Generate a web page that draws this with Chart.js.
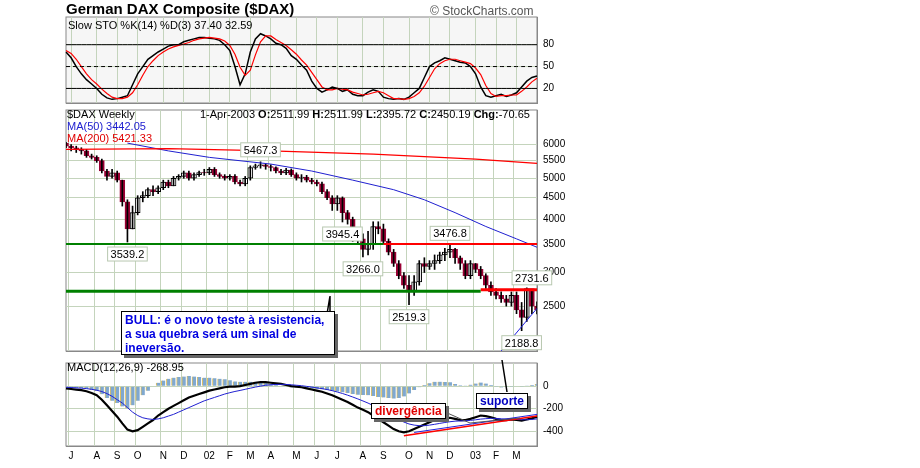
<!DOCTYPE html>
<html><head><meta charset="utf-8">
<script src="https://cdn.jsdelivr.net/npm/chart.js@4.4.0/dist/chart.umd.min.js"></script>
<style>
body{margin:0;background:#fff;font-family:"Liberation Sans",Arial,sans-serif}
#wrap{position:relative;width:920px;height:468px}
.pan{position:absolute;left:62px;width:518px}
.t{position:absolute;font-size:11px;white-space:nowrap}
.box{position:absolute;background:#fff;border:1px solid #000;box-shadow:3px 3px 0 #666;font-weight:bold;font-size:12px}
</style></head><body>
<div id="wrap">
<div class="pan" style="top:5px;height:110px"><canvas id="sto"></canvas></div>
<div class="pan" style="top:98px;height:265px"><canvas id="price"></canvas></div>
<div class="pan" style="top:351px;height:113px"><canvas id="macd"></canvas></div>
<div class="t" style="left:66px;top:0px;font-size:15px;font-weight:bold">German DAX Composite ($DAX)</div>
<div class="t" style="left:430px;top:4px;font-size:12px;color:#555">© StockCharts.com</div>
<div class="t" style="left:68px;top:19px">Slow STO %K(14) %D(3)  37.40  32.59</div>
<div class="t" style="left:67px;top:108px">$DAX Weekly</div>
<div class="t" style="left:200px;top:108px">1-Apr-2003 <b>O:</b>2511.99 <b>H:</b>2511.99 <b>L:</b>2395.72 <b>C:</b>2450.19 <b>Chg:</b>-70.65</div>
<div class="t" style="left:67px;top:120px;color:#2020d0">MA(50) 3442.05</div>
<div class="t" style="left:67px;top:132px;color:#e00000">MA(200) 5421.33</div>
<div class="t" style="left:67px;top:361px">MACD(12,26,9)  -268.95</div>
<svg width="920" height="468" style="position:absolute;left:0;top:0;pointer-events:none">
<polyline points="322,344 330,296 330,350" fill="none" stroke="#000" stroke-width="1.5"/>
<polyline points="445,412 470,423 520,418" fill="none" stroke="#555" stroke-width="1"/>
<polyline points="507,392 502,360" fill="none" stroke="#000" stroke-width="1.5"/>
</svg>
<div class="box" style="left:121px;top:311px;width:206px;height:40px;color:#0000e0;padding:1px 3px;line-height:14px">BULL: é o novo teste à resistencia, a sua quebra será um sinal de ineversão.</div>
<div class="box" style="left:371px;top:403px;color:#e00000;padding:0 3px">divergência</div>
<div class="box" style="left:476px;top:393px;color:#0000c0;padding:0 3px">suporte</div>
</div>
<script>
const weeks = [];
for (let d = new Date(2001, 5, 25), i = 0; i < 93; i++, d.setDate(d.getDate() + 7)) weeks.push(new Date(d));

const close = [5950,5900,5850,5800,5650,5600,5500,5200,5050,5150,4950,4400,3800,4150,4500,4550,4700,4650,4750,4900,4800,5000,5050,5150,5000,5100,5160,5150,5250,5100,5050,5000,5050,4900,4850,5000,5300,5350,5380,5330,5300,5200,5150,5230,5100,5000,5030,4950,4900,4850,4650,4500,4350,4500,4150,4000,3650,3600,3400,3500,3850,3800,3550,3350,3150,2950,2800,2700,2850,3150,3100,3150,3200,3300,3350,3400,3250,3150,2950,3150,3050,2950,2800,2700,2650,2600,2550,2650,2450,2350,2750,2500,2450];
const high = [6080,6000,5950,5900,5850,5700,5650,5550,5250,5250,5200,4950,4450,4300,4550,4650,4750,4800,4800,4950,4950,5050,5100,5200,5200,5150,5200,5250,5300,5300,5150,5100,5100,5100,4950,5050,5350,5400,5467,5400,5380,5320,5250,5280,5260,5150,5100,5080,5000,4950,4900,4700,4550,4550,4520,4200,4050,3800,3700,3750,3950,3950,3900,3600,3400,3200,3000,2950,2950,3200,3250,3200,3300,3350,3420,3476,3420,3280,3200,3200,3150,3100,2980,2850,2750,2700,2650,2700,2700,2550,2760,2731,2560];
const low = [5900,5800,5750,5700,5600,5550,5450,5150,4950,5000,4900,4300,3539,3800,4100,4400,4500,4550,4600,4700,4750,4800,4950,5000,4950,4950,5050,5080,5100,5050,5000,4950,4950,4850,4800,4800,4950,5250,5280,5250,5200,5150,5100,5100,5050,4950,4900,4900,4850,4800,4600,4450,4200,4200,3945,3900,3550,3500,3266,3300,3400,3700,3500,3300,3100,2900,2750,2519,2650,2800,3000,3050,3050,3150,3200,3250,3150,3050,2900,2900,3000,2900,2750,2650,2600,2550,2500,2500,2400,2188,2300,2400,2395];
const firstOpen = 6050;
// moving averages, read every few weeks
const ma50Pts = {12:6050,20:5800,28:5600,40:5400,48:5200,56:4950,64:4700,70:4450,76:4150,82:3850,88:3600,92:3440};
const ma200Pts = {0:5850,20:5870,40:5800,60:5700,80:5550,92:5421};
const stoK = [70,62,50,40,32,26,20,12,7,5,6,8,10,25,40,50,60,65,70,74,78,80,80,84,86,88,90,90,89,88,86,80,72,50,25,40,70,88,95,92,88,82,80,75,65,60,52,45,30,20,15,18,22,20,16,18,12,10,10,15,18,16,8,6,5,6,5,8,14,20,35,50,55,58,62,60,58,56,55,50,40,22,10,8,10,12,9,11,14,22,30,35,37];
const stoD = [72,68,60,50,40,32,26,19,13,8,6,6,8,14,25,38,50,58,65,70,74,77,79,81,83,86,88,89,90,89,88,85,79,67,49,38,45,66,84,92,92,87,83,79,73,67,59,52,42,32,22,18,18,20,19,18,15,13,11,12,14,16,14,10,6,6,5,6,9,14,23,35,47,54,58,60,60,58,56,54,48,39,24,13,9,10,10,11,11,16,22,29,34];
const macd = [-20,-25,-30,-35,-45,-60,-80,-120,-170,-220,-270,-330,-385,-400,-390,-360,-330,-300,-260,-230,-200,-175,-150,-125,-100,-85,-70,-55,-40,-30,-20,-10,-5,-5,0,10,20,30,35,35,30,25,20,10,0,-5,-10,-20,-30,-40,-50,-65,-80,-100,-120,-140,-165,-190,-210,-230,-260,-290,-320,-350,-380,-400,-410,-400,-380,-360,-340,-320,-300,-290,-285,-280,-290,-300,-300,-290,-275,-260,-265,-275,-290,-300,-300,-295,-300,-305,-295,-285,-270];
const signal = [-10,-12,-15,-18,-22,-28,-36,-48,-66,-90,-120,-150,-190,-230,-260,-280,-290,-295,-290,-280,-265,-250,-230,-210,-190,-170,-150,-130,-115,-100,-85,-70,-58,-47,-38,-28,-18,-8,0,8,12,15,16,15,12,8,4,-2,-8,-15,-22,-30,-40,-52,-65,-80,-96,-113,-131,-150,-172,-195,-220,-245,-270,-295,-318,-335,-345,-350,-350,-345,-338,-330,-322,-315,-310,-308,-306,-303,-298,-292,-288,-285,-286,-289,-292,-293,-295,-297,-297,-295,-290];
const priceTicks = [2500,3000,3500,4000,4500,5000,5500,6000];
const stoTicks = [20,50,80];
const macdTicks = [-400,-200,0];
const priceNotes = [[38,'5467.3',1],[12,'3539.2',0],[54,'3945.4',0],[58,'3266.0',0],[75,'3476.8',1],[67,'2519.3',0],[91,'2731.6',1],[89,'2188.8',0]];
// drawn trend lines: [startIdx, startVal, endIdx, endVal, colour, width]
const priceLines = [[0,3500,62,3500,'#008000',2],[62,3500,92,3500,'#ff0000',2],[0,2711,81,2711,'#008000',3],[81,2731,92,2731,'#ff0000',3],[85,1960,92,2470,'#2020e0',1]];
const macdLines = [[66,-440,92,-265,'#ff0000',1.5],[68,-410,92,-250,'#2020e0',1]];

const open = close.map((c, i) => i ? close[i - 1] : firstOpen);
const labels = weeks.map(d => d.toISOString().slice(0, 10));
const monthStart = weeks.map((d, i) => i > 0 && d.getMonth() !== weeks[i - 1].getMonth());
const mon = ['J','F','M','A','M','J','J','A','S','O','N','D'];
const tickText = i => monthStart[i] ? (weeks[i].getMonth() === 0 ? String(weeks[i].getFullYear()).slice(2) : mon[weeks[i].getMonth()]) : '';
const sparse = pts => labels.map((_, i) => pts[i] ?? null);
const seg = l => labels.map((_, i) => i === l[0] ? l[1] : i === l[2] ? l[3] : null);
const grid = '#c4d4bc';

function xAxis(show) {
  return { offset: false, grid: { color: c => monthStart[c.index] ? grid : 'rgba(0,0,0,0)', drawTicks: false },
    border: { color: '#888' },
    afterFit: s => { s.height = show ? 18 : 0; },
    ticks: { display: show, padding: 4, autoSkip: false, maxRotation: 0, color: '#000', font: { size: 10 }, callback: (v, i) => tickText(i) } };
}
function yAxis(o, tickList) {
  return Object.assign({ position: 'right', border: { color: '#888' }, grid: { color: grid, drawTicks: false },
    afterFit: s => { s.width = 43; },
    afterBuildTicks: s => { s.ticks = tickList.map(v => ({ value: v })); },
    ticks: { color: '#000', font: { size: 10 }, padding: 6, callback: v => v } }, o);
}
const base = { responsive: true, maintainAspectRatio: false, animation: false, events: [],
  plugins: { legend: { display: false }, tooltip: { enabled: false } } };
const bgPlugin = fill => ({ id: 'bg', beforeDraw(ch) { const a = ch.chartArea, c = ch.ctx; c.save(); c.fillStyle = fill; c.fillRect(a.left, a.top, a.width, a.height); c.strokeStyle = '#888'; c.strokeRect(a.left, a.top, a.width, a.height); c.restore(); } });
const lineDs = (data, color, w, extra) => Object.assign({ type: 'line', data, borderColor: color, borderWidth: w, pointRadius: 0, spanGaps: true, tension: 0 }, extra || {});
const pad = { left: 4, top: 3, bottom: 0, right: 0 };

new Chart(document.getElementById('sto'), {
  type: 'line',
  data: { labels, datasets: [
    lineDs(labels.map(() => 80), '#000', 1), lineDs(labels.map(() => 50), '#000', 1, { borderDash: [4, 3] }), lineDs(labels.map(() => 20), '#000', 1),
    lineDs(stoD, '#ff0000', 1.2), lineDs(stoK, '#000', 1.5)] },
  options: Object.assign({}, base, { layout: { padding: pad },
    scales: { x: xAxis(false), y: yAxis({ min: 0, max: 118 }, stoTicks) } }),
  plugins: [bgPlugin('#f6f6f6')]
});

const notePlugin = { id: 'notes', afterDatasetsDraw(ch) {
  const c = ch.ctx, xs = ch.scales.x, ys = ch.scales.y;
  c.save(); c.font = '11px "Liberation Sans", Arial'; c.textBaseline = 'middle';
  priceNotes.forEach(([i, txt, up]) => {
    const x = xs.getPixelForValue(i), yv = ys.getPixelForValue(up ? high[i] : low[i]);
    const w = c.measureText(txt).width + 6, y = up ? yv - 12 : yv + 12;
    c.fillStyle = '#fff'; c.strokeStyle = '#b8c8b0';
    c.fillRect(x - w / 2, y - 7, w, 14); c.strokeRect(x - w / 2, y - 7, w, 14);
    c.fillStyle = '#000'; c.textAlign = 'center'; c.fillText(txt, x, y + 1);
  });
  c.restore();
} };
new Chart(document.getElementById('price'), {
  type: 'bar',
  data: { labels, datasets: [
    ...priceLines.map(l => lineDs(seg(l), l[4], l[5])),
    lineDs(sparse(ma200Pts), '#ff0000', 1.2), lineDs(sparse(ma50Pts), '#2020d0', 1),
    { data: labels.map((_, i) => [low[i], high[i]]), backgroundColor: '#000', barThickness: 1, grouped: false },
    { data: labels.map((_, i) => [open[i], close[i]]), grouped: false, barThickness: 5, borderSkipped: false,
      backgroundColor: labels.map((_, i) => close[i] >= open[i] ? '#fff' : '#990033'),
      borderColor: labels.map((_, i) => close[i] >= open[i] ? '#000' : '#990033'), borderWidth: 1 }] },
  options: Object.assign({}, base, { layout: { padding: pad },
    scales: { x: xAxis(false), y: yAxis({ type: 'logarithmic', min: 1960, max: 7240 }, priceTicks) } }),
  plugins: [bgPlugin('#fff'), notePlugin]
});

new Chart(document.getElementById('macd'), {
  type: 'bar',
  data: { labels, datasets: [
    ...macdLines.map(l => lineDs(seg(l), l[4], l[5])),
    lineDs(signal, '#2020d0', 1), lineDs(macd, '#000', 2.2),
    { data: macd.map((m, i) => m - signal[i]), backgroundColor: '#7fa8d0', borderColor: '#e0c060', borderWidth: { left: 1, right: 0, top: 0, bottom: 0 }, barThickness: 4, grouped: false }] },
  options: Object.assign({}, base, { layout: { padding: pad },
    scales: { x: xAxis(true), y: yAxis({ min: -530, max: 205 }, macdTicks) } }),
  plugins: [bgPlugin('#fff')]
});
</script>
</body></html>
